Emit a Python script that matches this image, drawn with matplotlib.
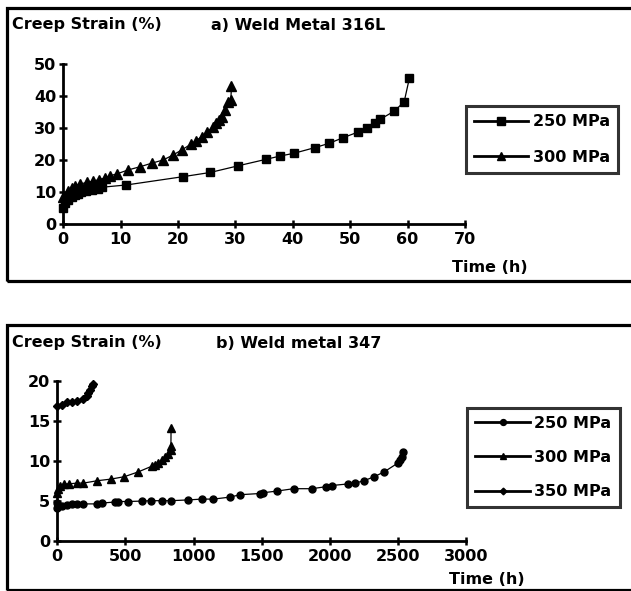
import matplotlib
matplotlib.use("Agg")
import matplotlib.pyplot as plt
from matplotlib.patches import Rectangle

plt.rcParams['font.family'] = ['DejaVu Sans']
plt.rcParams['font.weight'] = 'bold'

# a) Weld Metal 316L
a_t250 = [0, 0.3, 0.8, 1.5, 2, 2.5, 3, 4, 5, 6, 6.8, 11.0, 20.9, 25.6, 30.5, 35.3, 37.8,
          40.2, 43.9, 46.3, 48.8, 51.4, 52.9, 54.3, 55.2, 57.7, 59.4, 60.3]
a_s250 = [4.9, 6.5, 7.5, 8.3, 9.0, 9.5, 10.0, 10.3, 10.7, 11.0, 11.5, 12.2, 14.8, 16.1, 18.2,
          20.2, 21.25, 22.1, 23.9, 25.2, 27.0, 28.75, 30.1, 31.5, 32.7, 35.3, 38.2, 45.5]
a_t300 = [0, 0.9, 1.5, 2, 2.9, 4.2, 5.2, 6.3, 7.3, 8.2, 9.4, 11.3, 13.4, 15.4, 17.4, 19.05,
          20.6, 22.2, 23.1, 24.1, 25.1, 26.0, 26.6, 27.1, 27.6, 28.2, 28.7, 29.2, 29.3]
a_s300 = [8.5, 10.4, 11.2, 11.9, 12.5, 13.0, 13.4, 13.9, 14.4, 15.1, 15.7, 16.9, 17.9, 19.0,
          20.0, 21.5, 23.1, 24.9, 26.0, 27.3, 28.75, 30.3, 31.5, 32.5, 33.5, 35.6, 38.2, 38.9, 43.1]

# b) Weld metal 347
b_t250 = [0, 0, 32, 69, 106, 143, 192, 289, 326, 424, 448, 517, 620, 686, 767, 835, 962, 1060,
          1146, 1268, 1342, 1489, 1513, 1611, 1734, 1868, 1973, 2015, 2137, 2186, 2252, 2326,
          2399, 2504, 2517, 2529, 2541]
b_s250 = [4.05, 4.7, 4.4, 4.5, 4.6, 4.65, 4.6, 4.6, 4.7, 4.84, 4.9, 4.9, 4.95, 5.0, 5.0, 5.0,
          5.1, 5.2, 5.2, 5.45, 5.75, 5.9, 6.0, 6.2, 6.5, 6.5, 6.75, 6.9, 7.1, 7.2, 7.5, 8.0,
          8.6, 9.75, 10.1, 10.5, 11.1]
b_t300 = [0, 5, 22, 47, 84, 143, 192, 294, 394, 492, 594, 692, 717, 741, 766, 790, 815, 832,
          834, 835]
b_s300 = [6.0, 6.5, 6.9, 7.1, 7.1, 7.2, 7.2, 7.5, 7.7, 8.0, 8.6, 9.3, 9.5, 9.7, 10.1, 10.5,
          10.9, 11.4, 11.8, 14.05]
b_t350 = [0, 32, 69, 106, 143, 187, 216, 228, 240, 253, 265]
b_s350 = [16.9, 17.0, 17.3, 17.4, 17.5, 17.7, 18.1, 18.5, 18.9, 19.3, 19.6]

W, H = 631, 591
fig = plt.figure(figsize=(W / 100, H / 100), dpi=100)


def fx(px):
    return px / W


def fy(py):
    return 1 - py / H


def add_ax(x0, y0, x1, y1):
    return fig.add_axes([fx(x0), fy(y1), fx(x1 - x0), (y1 - y0) / H])


def style(ax):
    for s in ['top', 'right']:
        ax.spines[s].set_visible(False)
    for s in ['left', 'bottom']:
        ax.spines[s].set_linewidth(2.0)
    ax.tick_params(direction='inout', length=6, width=1.8, labelsize=11.5)
    ax.tick_params(axis='x', pad=3)
    ax.tick_params(axis='y', pad=2)
    ax.patch.set_alpha(0)


def legend(ax, cx, cy, spacing):
    leg = ax.legend(loc='center', bbox_to_anchor=(fx(cx), fy(cy)),
                    bbox_transform=fig.transFigure, fontsize=11.5, frameon=True,
                    fancybox=False, handlelength=3.4, handletextpad=0.3,
                    labelspacing=spacing, borderpad=0.5, markerscale=0.85)
    leg.get_frame().set_edgecolor('black')
    leg.get_frame().set_linewidth(2.2)
    for h in leg.get_lines():
        h.set_linewidth(2.0)
    return leg


# frames
for y0, y1 in [(8, 281), (325, 590)]:
    fig.patches.append(Rectangle((fx(7), fy(y1)), 1.2, (y1 - y0) / H, fill=False,
                                 lw=2.3, ec='black', transform=fig.transFigure))

lk = dict(color='black', lw=0.9, clip_on=False)

# panel a
ax1 = add_ax(63.3, 64, 465, 224)
ax1.plot(a_t250, a_s250, marker='s', ms=6, label='250 MPa', **lk)
ax1.plot(a_t300, a_s300, marker='^', ms=6.5, label='300 MPa', **lk)
ax1.set_xlim(0, 70)
ax1.set_ylim(0, 50)
ax1.set_xticks(range(0, 71, 10))
ax1.set_yticks(range(0, 51, 10))
style(ax1)
legend(ax1, 542, 139.5, 1.3)

fig.text(fx(12), fy(24), 'Creep Strain (%)', fontsize=11.5, va='center', ha='left')
fig.text(fx(211), fy(25), 'a) Weld Metal 316L', fontsize=11.5, va='center', ha='left')
fig.text(fx(452), fy(268), 'Time (h)', fontsize=11.5, va='center', ha='left')

# panel b
ax2 = add_ax(57.3, 380.7, 466, 540.7)
ax2.plot(b_t250, b_s250, marker='o', ms=5, label='250 MPa', **lk)
ax2.plot(b_t300, b_s300, marker='^', ms=5.5, label='300 MPa', **lk)
ax2.plot(b_t350, b_s350, marker='D', ms=4, label='350 MPa', **lk)
ax2.set_xlim(0, 3000)
ax2.set_ylim(0, 20)
ax2.set_xticks(range(0, 3001, 500))
ax2.set_yticks(range(0, 21, 5))
style(ax2)
legend(ax2, 543.5, 457.5, 1.2)

fig.text(fx(12), fy(343), 'Creep Strain (%)', fontsize=11.5, va='center', ha='left')
fig.text(fx(216), fy(343), 'b) Weld metal 347', fontsize=11.5, va='center', ha='left')
fig.text(fx(449), fy(580), 'Time (h)', fontsize=11.5, va='center', ha='left')

fig.savefig('out.png', dpi=100)
